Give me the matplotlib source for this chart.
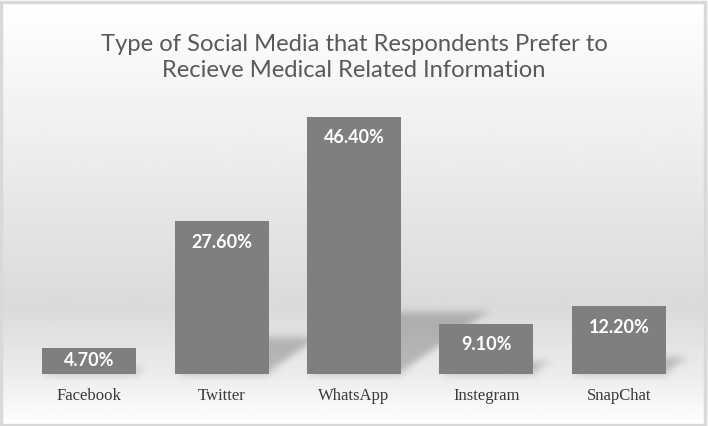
import numpy as np
import matplotlib
matplotlib.use("Agg")
import matplotlib.pyplot as plt
from matplotlib.patches import Polygon, Rectangle

categories = ["Facebook", "Twitter", "WhatsApp", "Instegram", "SnapChat"]
values = [4.7, 27.6, 46.4, 9.1, 12.2]
value_labels = ["4.70%", "27.60%", "46.40%", "9.10%", "12.20%"]
title = "Type of Social Media that Respondents Prefer to\nRecieve Medical Related Information"

W, H = 708, 426
fig = plt.figure(figsize=(W / 100, H / 100), dpi=100)

# background gradient
bg = fig.add_axes([0, 0, 1, 1], zorder=-10)
ys = np.linspace(0, 1, 400)
stops_y = [0.0, 0.2, 0.72, 0.88, 1.0]
stops_v = [255, 245, 218, 236, 255]
col = np.interp(ys, stops_y, stops_v) / 255.0
img = np.repeat(col[:, None], 10, axis=1)
bg.imshow(img, cmap="gray", vmin=0, vmax=1, aspect="auto", extent=[0, 1, 0, 1], origin="upper")
bg.add_patch(Rectangle((0.002, 0.003), 0.994, 0.992, transform=bg.transAxes,
                       fill=False, edgecolor="#d9d9d9", linewidth=2.5))
bg.set_xlim(0, 1)
bg.set_ylim(0, 1)
bg.axis("off")

ax = fig.add_axes([23 / W, 52 / H, 662 / W, 277 / H])
ax.set_facecolor("none")
ax.set_xlim(-0.5, 4.5)
ax.set_ylim(0, 50)
x = np.arange(len(categories))
bw = 0.71


def gauss_filter(sigma):
    def f(im, dpi):
        pad = int(3 * sigma) + 1
        a = np.pad(im, ((pad, pad), (pad, pad), (0, 0)))
        r = np.arange(-pad, pad + 1)
        k = np.exp(-0.5 * (r / sigma) ** 2)
        k /= k.sum()
        out = np.empty_like(a)
        for c in range(4):
            t = np.apply_along_axis(lambda m: np.convolve(m, k, mode="same"), 0, a[:, :, c])
            out[:, :, c] = np.apply_along_axis(lambda m: np.convolve(m, k, mode="same"), 1, t)
        return out, -pad, -pad
    return f


# perspective shadows
for xi, v in zip(x, values):
    dx = 0.0146 * v
    dy = 0.24 * v
    poly = Polygon([(xi - bw / 2, 0), (xi + bw / 2, 0),
                    (xi + bw / 2 + dx, dy), (xi - bw / 2 + dx, dy)],
                   closed=True, facecolor="black", alpha=0.22, edgecolor="none", zorder=1)
    poly.set_agg_filter(gauss_filter(4))
    ax.add_patch(poly)

ax.bar(x, values, width=bw, color="#7f7f7f", zorder=2)

for xi, v, lab in zip(x, values, value_labels):
    yl = max(v - 3.8, v / 2)
    ax.text(xi, yl, lab, ha="center", va="center", color="white",
            fontsize=13, fontweight="bold", family=["Lato", "DejaVu Sans"], zorder=3)

ax.set_xticks(x)
ax.set_xticklabels(categories, fontsize=12, color="#3a3a3a", family=["Liberation Serif"])
ax.tick_params(axis="x", length=0, pad=10)
ax.set_yticks([])
for s in ax.spines.values():
    s.set_visible(False)

fig.text(0.5, 1 - 57.5 / H, title, ha="center", va="center", fontsize=17.1,
         color="#595959", family=["Lato", "DejaVu Sans"],
         fontweight="normal", linespacing=1.25)

fig.savefig("out.png", dpi=100)
